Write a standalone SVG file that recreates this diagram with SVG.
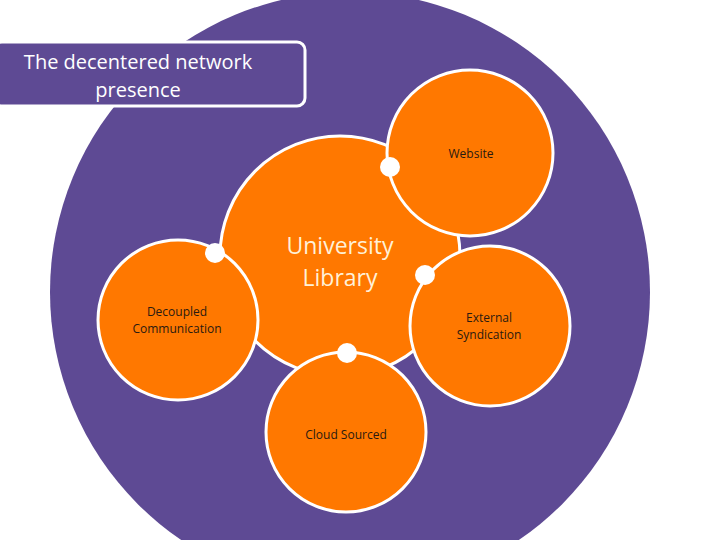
<svg xmlns="http://www.w3.org/2000/svg" width="720" height="540" viewBox="0 0 720 540">
<style>
.o{fill:#FF7800;stroke:#fff;stroke-width:3}
.d{fill:#fff}
.s{font-family:"Open Sans","DejaVu Sans",sans-serif;font-size:12px;fill:#2a1a10;text-anchor:middle}
</style>
<rect width="720" height="540" fill="#fff"/>
<circle cx="350" cy="292" r="300" fill="#5E4A94"/>
<g id="title"><rect x="-6" y="42" width="311" height="64" rx="8" fill="#5E4A94" stroke="#fff" stroke-width="3"/>
<text x="138" y="69" font-family="Open Sans,DejaVu Sans,sans-serif" font-size="20" fill="#fff" text-anchor="middle">The decentered network</text>
<text x="138" y="97" font-family="Open Sans,DejaVu Sans,sans-serif" font-size="20" fill="#fff" text-anchor="middle">presence</text></g>
<g id="library"><circle class="o" cx="340" cy="256" r="120"/>
<text x="340" y="254" font-family="Open Sans,DejaVu Sans,sans-serif" font-size="23" fill="#FFF1D8" text-anchor="middle">University</text>
<text x="340" y="286" font-family="Open Sans,DejaVu Sans,sans-serif" font-size="23" fill="#FFF1D8" text-anchor="middle">Library</text></g>
<g id="website"><circle class="o" cx="470" cy="153" r="83"/><text class="s" x="471" y="158">Website</text></g>
<g id="decoupled"><circle class="o" cx="178" cy="320" r="80"/><text class="s" x="177" y="316">Decoupled</text><text class="s" x="177" y="333">Communication</text></g>
<g id="external"><circle class="o" cx="490" cy="326" r="80"/><text class="s" x="489" y="322">External</text><text class="s" x="489" y="339">Syndication</text></g>
<g id="cloud"><circle class="o" cx="346" cy="432" r="80"/><text class="s" x="346" y="439">Cloud Sourced</text></g>
<g id="connectors"><circle class="d" cx="390" cy="167" r="10"/><circle class="d" cx="215" cy="253" r="10"/><circle class="d" cx="425" cy="275" r="10"/><circle class="d" cx="347" cy="353" r="10"/></g>
</svg>
